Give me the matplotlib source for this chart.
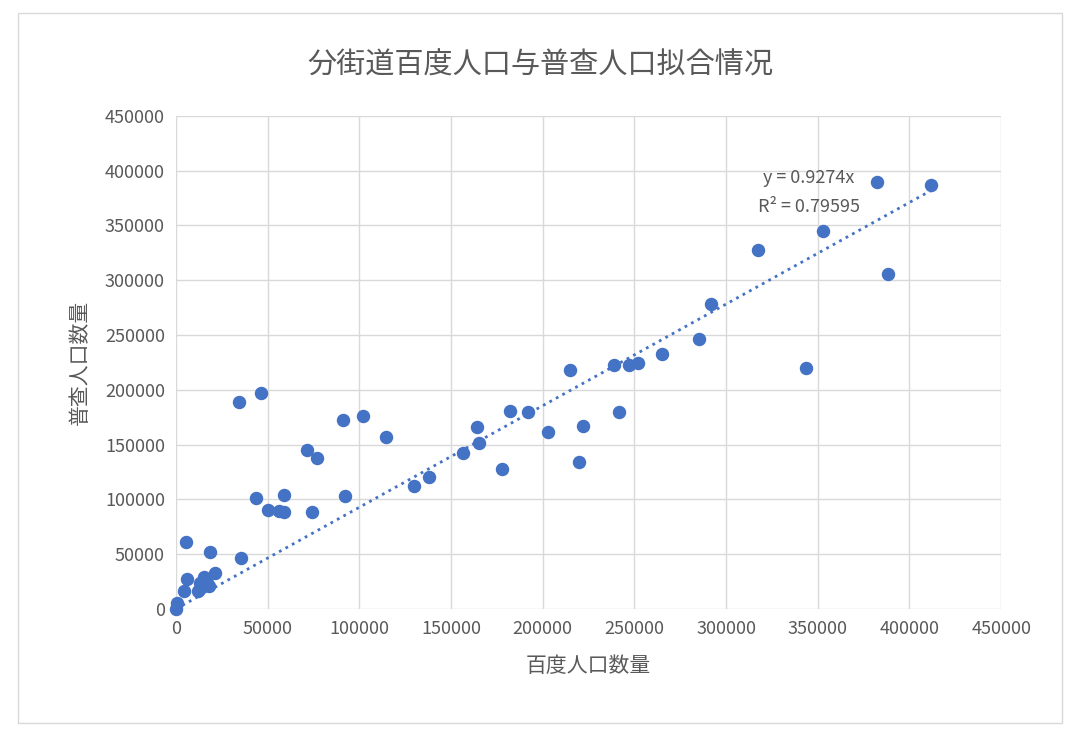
import matplotlib.pyplot as plt
from matplotlib import font_manager
from matplotlib.ticker import MultipleLocator

# pick whatever CJK font is installed
cjk = [f.name for f in font_manager.fontManager.ttflist if 'CJK' in f.name]
pref = [n for n in cjk if 'SC' in n] or cjk
plt.rcParams['font.family'] = ['sans-serif']
plt.rcParams['font.sans-serif'] = pref[:1] + ['DejaVu Sans']

# 百度人口 vs 普查人口
baidu = [0, 500, 5500, 6000, 4400, 12000, 13000, 14000, 15500, 16500, 18000, 17000, 21000,
         18500, 35500, 34400, 46400, 43600, 50000, 56000, 59000, 59000, 74000, 71500, 77000,
         91000, 92000, 102000, 114500, 130000, 138000, 156500, 164000, 165000, 178000, 182000,
         192000, 203000, 215000, 220000, 222000, 239000, 241500, 247000, 252000, 265000,
         285000, 291500, 317500, 343500, 353000, 382500, 388500, 412000]
census = [0, 5000, 61000, 27000, 16000, 16000, 24000, 20000, 29000, 26000, 21000, 24000, 33000,
          52000, 46000, 189000, 197000, 101000, 90000, 89000, 88500, 104000, 88000, 145000, 138000,
          172500, 103000, 176000, 157000, 112000, 120000, 142000, 166000, 151500, 128000, 181000,
          180000, 161000, 218000, 134000, 167000, 223000, 180000, 223000, 224000, 233000,
          246000, 278000, 328000, 220000, 345000, 390000, 306000, 387000]
slope = 0.9274

fig = plt.figure(figsize=(10.8, 7.38), dpi=100)
ax = fig.add_axes([0.163, 0.175, 0.764, 0.668])
ax.scatter(baidu, census, s=75, color='#4472C4', zorder=3, clip_on=False)
xs = [0, max(baidu)]
ax.plot(xs, [slope * v for v in xs], ls=':', lw=2, color='#4472C4', zorder=2)
ax.text(345000, 389000, 'y = 0.9274x', fontsize=13, color='#595959', ha='center')
ax.text(345000, 362000, 'R² = 0.79595', fontsize=13, color='#595959', ha='center')

ax.set_xlim(0, 450000)
ax.set_ylim(0, 450000)
ax.xaxis.set_major_locator(MultipleLocator(50000))
ax.yaxis.set_major_locator(MultipleLocator(50000))
ax.grid(color='#d9d9d9', lw=1)
ax.set_axisbelow(True)
for s in ax.spines.values():
    s.set_visible(False)
ax.tick_params(length=0, labelsize=13, labelcolor='#595959', pad=8)
ax.set_xlabel('百度人口数量', fontsize=15, color='#595959', labelpad=12)
ax.set_ylabel('普查人口数量', fontsize=15, color='#595959', labelpad=10)
fig.text(0.5, 0.9, '分街道百度人口与普查人口拟合情况', fontsize=21, color='#595959', ha='center')
fig.add_artist(plt.Rectangle((0.017, 0.02), 0.966, 0.962, transform=fig.transFigure,
                             fill=False, edgecolor='#d9d9d9', lw=1))
fig.savefig('out.png')
